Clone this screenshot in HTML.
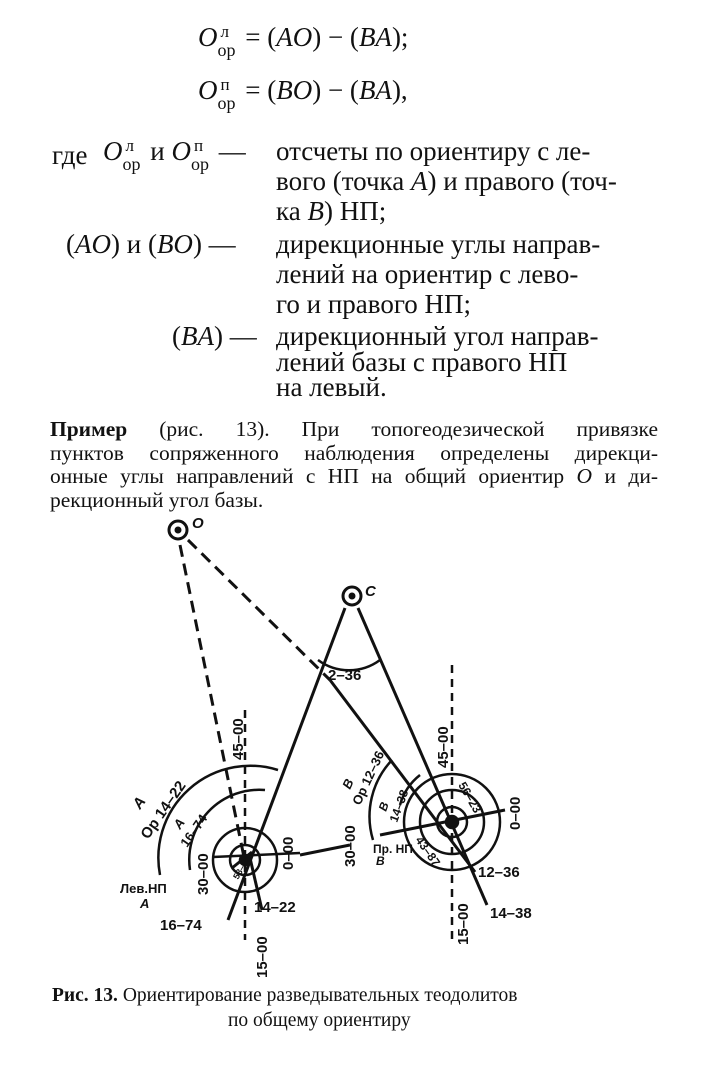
<!DOCTYPE html>
<html><head><meta charset="utf-8"><style>
body{margin:0;width:710px;height:1080px;background:#fff;position:relative;font-family:"Liberation Serif",serif;color:#111;overflow:hidden}
.t{position:absolute;white-space:nowrap;font-size:27px}
i{font-style:italic}
.ss{display:inline-block;position:relative;width:21px;height:10px}
.ss .u{position:absolute;left:3px;top:-14px;font-size:17px}
.ss .d{position:absolute;left:0;top:4px;font-size:18px}
.pl{position:absolute;left:50px;width:608px;font-size:21.5px;text-align:justify;text-align-last:justify;white-space:nowrap}
svg text{font-family:"Liberation Sans",sans-serif;font-weight:bold}
</style></head><body>
<div class="t" style="left:198px;top:22px"><i>O</i><span class="ss"><span class="u">л</span><span class="d">ор</span></span> = (<i>AO</i>) − (<i>BA</i>);</div>
<div class="t" style="left:198px;top:75px"><i>O</i><span class="ss"><span class="u">п</span><span class="d">ор</span></span> = (<i>BO</i>) − (<i>BA</i>),</div>
<div class="t" style="left:52px;top:140px">где</div>
<div class="t" style="left:103px;top:136px"><i>O</i><span class="ss"><span class="u">л</span><span class="d">ор</span></span> и <i>O</i><span class="ss"><span class="u">п</span><span class="d">ор</span></span> —</div>
<div class="t" style="left:276px;top:136px">отсчеты по ориентиру с ле-</div>
<div class="t" style="left:276px;top:166px">вого (точка <i>A</i>) и правого (точ-</div>
<div class="t" style="left:276px;top:196px">ка <i>B</i>) НП;</div>
<div class="t" style="left:66px;top:229px">(<i>AO</i>) и (<i>BO</i>) —</div>
<div class="t" style="left:276px;top:229px">дирекционные углы направ-</div>
<div class="t" style="left:276px;top:259px">лений на ориентир с лево-</div>
<div class="t" style="left:276px;top:289px">го и правого НП;</div>
<div class="t" style="left:172px;top:321px">(<i>BA</i>) —</div>
<div class="t" style="left:276px;top:321px">дирекционный угол направ-</div>
<div class="t" style="left:276px;top:347px">лений базы с правого НП</div>
<div class="t" style="left:276px;top:372px">на левый.</div>
<div class="pl" style="top:417px"><b>Пример</b> (рис. 13). При топогеодезической привязке</div>
<div class="pl" style="top:441px">пунктов сопряженного наблюдения определены дирекци-</div>
<div class="pl" style="top:464px">онные углы направлений с НП на общий ориентир <i>О</i> и ди-</div>
<div style="position:absolute;left:50px;top:488px;font-size:21.5px;white-space:nowrap">рекционный угол базы.</div>
<svg width="710" height="1080" style="position:absolute;left:0;top:0" fill="none" stroke="#111">
<g stroke-width="3">
<circle cx="178" cy="530" r="9"/><circle cx="178" cy="530" r="2" fill="#111"/>
<circle cx="352" cy="596" r="9"/><circle cx="352" cy="596" r="2" fill="#111"/>
<path d="M180 545 L245 862" stroke-dasharray="12 7"/>
<path d="M188 540 L330 680" stroke-dasharray="12 7"/>
<path d="M330 680 L475 872"/>
<path d="M345 608 L228 920"/>
<path d="M358 608 L487 905"/>
<path d="M250 858 L262 910"/>
<path d="M300 855 L350 845"/>
<path d="M380 835 L505 810"/>
<path d="M232 868 L252 852"/>
</g>
<g stroke-width="2.5">
<path d="M245 710 V940" stroke-dasharray="8 6"/>
<path d="M452 665 V940" stroke-dasharray="8 6"/>
<circle cx="245" cy="860" r="32"/><circle cx="245" cy="860" r="15"/>
<circle cx="452" cy="822" r="48"/><circle cx="452" cy="822" r="32"/><circle cx="452" cy="822" r="15"/>
<path d="M160 875 A92 92 0 0 1 278 770"/>
<path d="M190 870 A70 70 0 0 1 265 790"/>
<path d="M318 660 A52 52 0 0 0 380 660"/>
<path d="M373 840 A82 82 0 0 1 392 760"/>
<path d="M400 805 A58 58 0 0 1 420 775"/>
<path d="M213 857 L300 853"/>
<circle cx="245" cy="860" r="5" fill="#111"/><circle cx="452" cy="822" r="6" fill="#111"/>
</g>
<g fill="#111" stroke="none" font-size="15">
<text x="192" y="528" font-style="italic">O</text>
<text x="365" y="596" font-style="italic">C</text>
<text x="328" y="680">2–36</text>
<text x="254" y="912">14–22</text>
<text x="160" y="930">16–74</text>
<text x="478" y="877">12–36</text>
<text x="490" y="918">14–38</text>
<text x="120" y="893" font-size="13">Лев.НП</text>
<text x="140" y="908" font-size="13" font-style="italic">A</text>
<text x="373" y="853" font-size="12">Пр. НП</text>
<text x="376" y="865" font-size="12" font-style="italic">B</text>
<text transform="translate(243 760) rotate(-90)">45–00</text>
<text transform="translate(448 768) rotate(-90)">45–00</text>
<text transform="translate(267 978) rotate(-90)">15–00</text>
<text transform="translate(468 945) rotate(-90)">15–00</text>
<text transform="translate(208 895) rotate(-90)">30–00</text>
<text transform="translate(355 867) rotate(-90)">30–00</text>
<text transform="translate(293 870) rotate(-90)">0–00</text>
<text transform="translate(520 830) rotate(-90)">0–00</text>
<text transform="translate(148 840) rotate(-55)">Op 14–22</text>
<text transform="translate(140 810) rotate(-55)" font-style="italic">A</text>
<text transform="translate(187 848) rotate(-55)" font-size="13">16–74</text>
<text transform="translate(180 830) rotate(-55)" font-size="13" font-style="italic">A</text>
<text transform="translate(360 806) rotate(-65)" font-size="13">Op 12–36</text>
<text transform="translate(350 790) rotate(-65)" font-size="13" font-style="italic">B</text>
<text transform="translate(397 823) rotate(-70)" font-size="12">14–38</text>
<text transform="translate(386 812) rotate(-70)" font-size="12" font-style="italic">B</text>
<text transform="translate(458 785) rotate(60)" font-size="12">56–23</text>
<text transform="translate(415 840) rotate(55)" font-size="12">43–87</text>
<text transform="translate(238 880) rotate(-60)" font-size="9">58–08</text>
</g>
</svg>
<div style="position:absolute;left:52px;top:985px;font-size:19.5px;white-space:nowrap"><b>Рис. 13.</b> Ориентирование разведывательных теодолитов</div>
<div style="position:absolute;left:228px;top:1010px;font-size:19.5px;white-space:nowrap">по общему ориентиру</div>
</body></html>
